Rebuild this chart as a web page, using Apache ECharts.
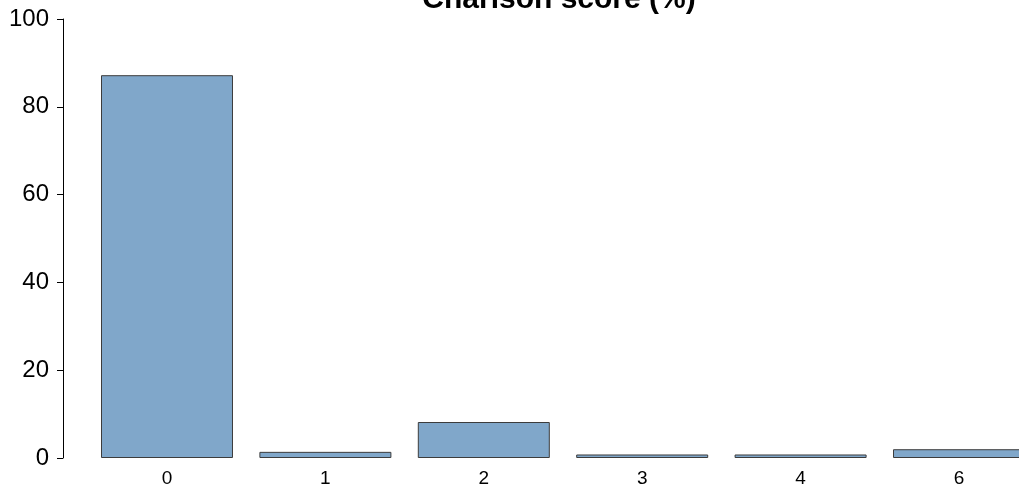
<!DOCTYPE html>
<html>
<head>
<meta charset="utf-8">
<script src="https://cdn.jsdelivr.net/npm/echarts@6/dist/echarts.min.js"></script>
<style>html,body{margin:0;padding:0;background:#fff}#c{width:1019px;height:486px}</style>
</head>
<body>
<div id="c"></div>
<script>
var categories = ['0', '1', '2', '3', '4', '6'];
var values = [87.2, 1.4, 8.2, 0.8, 0.8, 2.0];
var yTicks = [0, 20, 40, 60, 80, 100];
var titleText = 'Charlson score (%)';

var chart = echarts.init(document.getElementById('c'), null, {renderer: 'canvas'});
chart.setOption({
  animation: false,
  backgroundColor: '#ffffff',
  graphic: [{
    type: 'text', x: 559, y: -15,
    style: {text: titleText, fontFamily: 'Liberation Sans', fontWeight: 'bold', fontSize: 30,
      fill: '#000', textAlign: 'center', textVerticalAlign: 'top'}
  }],
  grid: {left: 87.8, width: 950.4, top: 19, height: 439, containLabel: false, outerBoundsMode: 'none'},
  xAxis: {
    type: 'category', data: categories,
    axisLine: {show: false}, axisTick: {show: false},
    axisLabel: {fontFamily: 'Liberation Sans', fontSize: 19, color: '#000', margin: 11}
  },
  yAxis: {
    type: 'value', min: yTicks[0], max: yTicks[yTicks.length - 1], interval: 20,
    offset: 24.8,
    splitLine: {show: false},
    axisLine: {show: true, lineStyle: {color: '#000', width: 1}},
    axisTick: {show: true, length: 6, lineStyle: {color: '#000'}},
    axisLabel: {fontFamily: 'Liberation Sans', fontSize: 24, color: '#000', margin: 14}
  },
  series: [{
    type: 'bar', data: values, barCategoryGap: '16.667%',
    itemStyle: {color: '#80a7ca', borderColor: '#3c3c3c', borderWidth: 1}
  }]
});
</script>
</body>
</html>
